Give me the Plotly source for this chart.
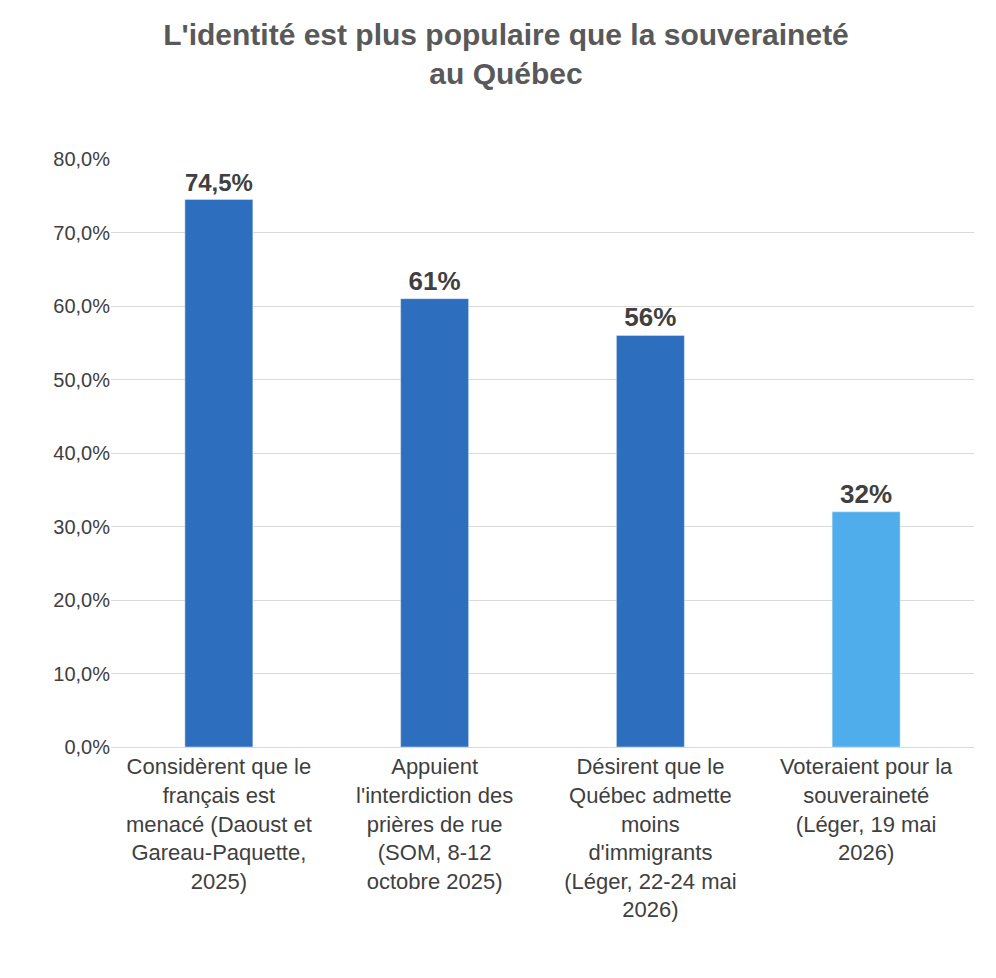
import plotly.graph_objects as go

categories = [
    "Considèrent que le<br>français est<br>menacé (Daoust et<br>Gareau-Paquette,<br>2025)",
    "Appuient<br>l'interdiction des<br>prières de rue<br>(SOM, 8-12<br>octobre 2025)",
    "Désirent que le<br>Québec admette<br>moins<br>d'immigrants<br>(Léger, 22-24 mai<br>2026)",
    "Voteraient pour la<br>souveraineté<br>(Léger, 19 mai<br>2026)",
]
values = [74.5, 61, 56, 32]
labels = ["<b>74,5%</b>", "<b>61%</b>", "<b>56%</b>", "<b>32%</b>"]
colors = ["#2E6EBE", "#2E6EBE", "#2E6EBE", "#4EADEA"]

fig = go.Figure(go.Bar(
    x=categories, y=values, width=0.315,
    marker_color=colors,
    text=labels, textposition="outside",
    textfont=dict(size=26, color="#404040", family="Liberation Sans"),
    cliponaxis=False,
))

fig.update_layout(
    width=996, height=978,
    separators=",.",
    plot_bgcolor="white", paper_bgcolor="white",
    font=dict(family="Liberation Sans", color="#404040"),
    title=dict(
        text="<b>L'identité est plus populaire que la souveraineté<br>au Québec</b>",
        x=0.5, xanchor="center", y=0.962, yanchor="top",
        font=dict(size=30, color="#595959"),
    ),
    margin=dict(l=103, r=30, t=151, b=239, autoexpand=False),
    showlegend=False,
    bargap=0.685,
)
fig.update_yaxes(
    range=[0, 80], dtick=10, tickformat=".1f", ticksuffix="%",
    gridcolor="#D9D9D9", gridwidth=1, zeroline=False, automargin=False,
    tickfont=dict(size=20, color="#404040"), ticks="", ticklen=8,
)
fig.update_xaxes(
    tickfont=dict(size=22, color="#404040"), tickangle=0, automargin=False,
    showline=True, linecolor="#D9D9D9",
)

fig.write_html("out.html")
